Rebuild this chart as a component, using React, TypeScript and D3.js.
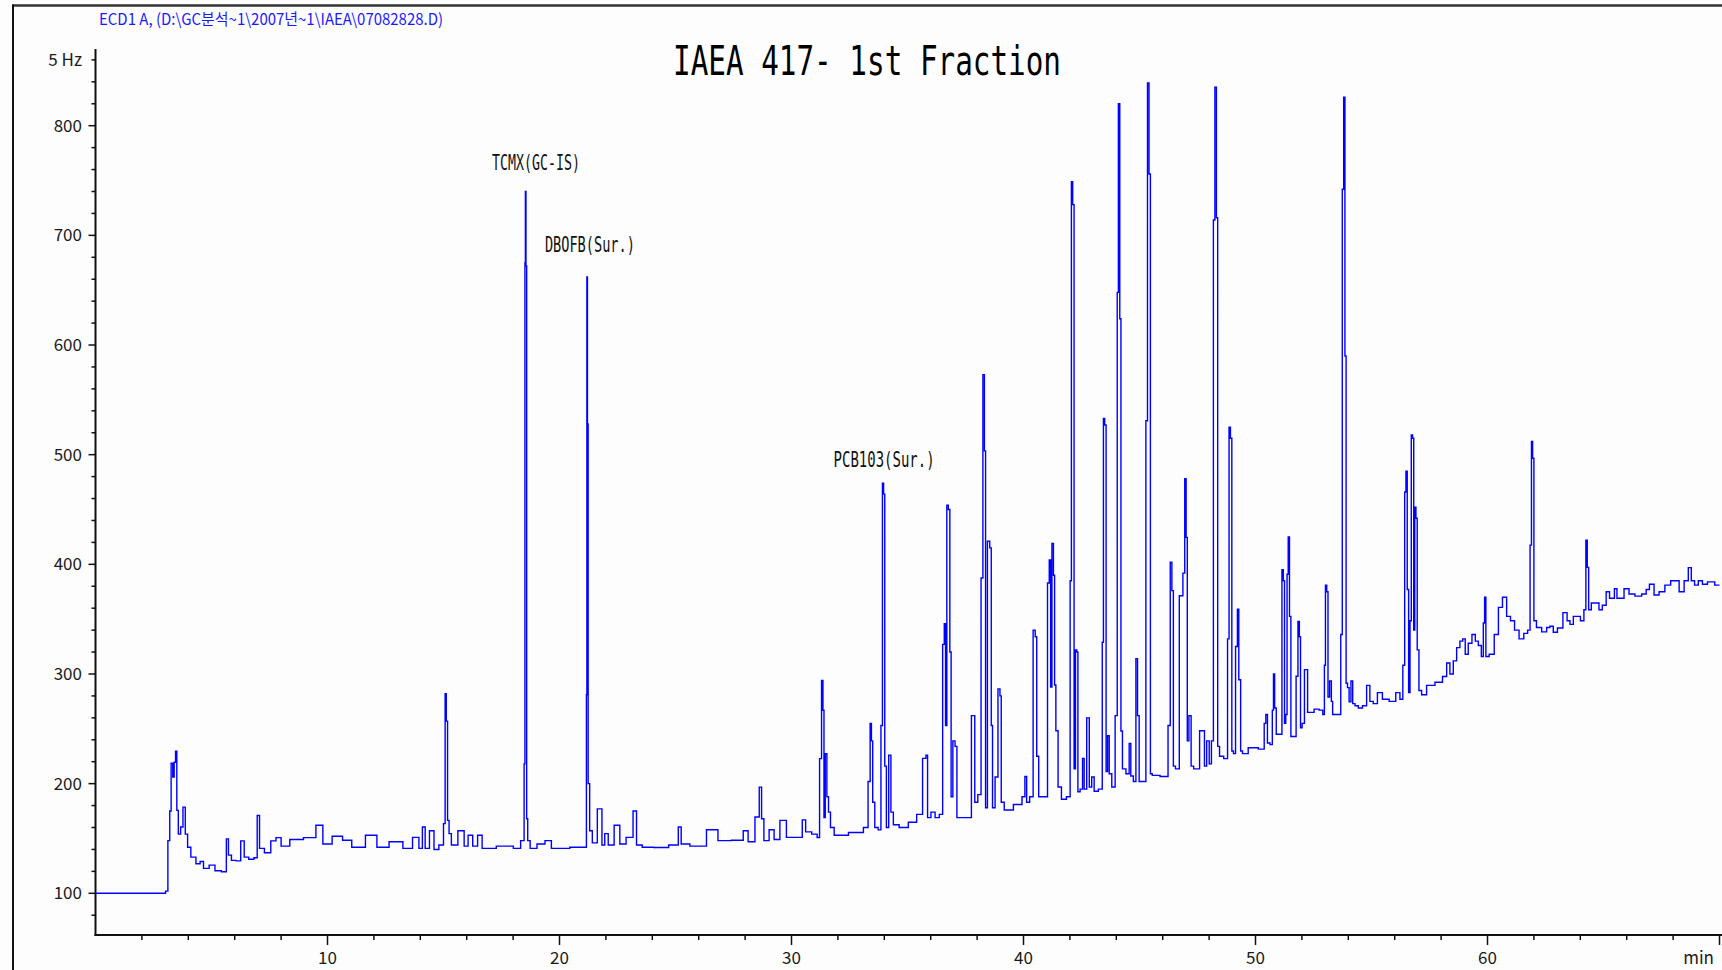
import React from 'react';
import * as d3 from 'd3';

type Pt = [number, number];

// retention time (min), detector signal (Hz)
const solventFront: Pt[] = [
  [0, 100], [2.97, 100], [3.07, 102], [3.17, 148], [3.23, 175], [3.29, 218.6], [3.37, 206], [3.41, 219.5],
  [3.49, 229.5], [3.52, 175.6], [3.62, 154], [3.72, 160.5], [3.82, 178.6], [3.92, 154], [4.02, 142], [4.2, 133],
  [4.46, 127], [4.56, 129], [4.75, 122.7], [5.05, 125.7], [5.25, 120.5], [5.6, 119.7], [5.68, 149.6], [5.78, 134.8],
  [5.94, 130], [6.18, 129.6], [6.34, 147.8], [6.48, 133], [6.73, 131], [6.93, 132.4], [7.01, 171], [7.13, 141],
];

const earlyTrace: Pt[] = [
  [7.43, 137], [7.68, 147.8], [7.88, 150.8], [8.12, 143], [8.63, 149], [9.3, 150.8], [9.7, 162], [9.9, 145],
  [10.5, 152], [10.8, 148.4], [11.29, 142], [11.98, 153], [12.28, 142], [13.03, 147], [13.47, 141], [13.86, 151],
  [14.02, 141], [14.16, 160.5], [14.26, 141], [14.53, 157], [14.65, 140], [14.95, 144], [15.05, 163.5], [15.09, 282],
  [15.15, 257], [15.2, 166.5], [15.28, 154.4], [15.4, 144], [15.84, 157], [15.94, 143], [16.18, 153], [16.34, 143],
  [16.6, 153], [16.73, 141], [17.82, 143], [18.2, 141], [18.45, 148],
];

const standardsTrace: Pt[] = [
  [18.5, 218], [18.52, 675], [18.54, 740], [18.57, 672], [18.6, 168], [18.66, 148], [18.81, 141], [19.25, 145],
  [19.5, 148], [19.8, 141], [21.09, 142], [21.15, 142], [21.17, 281], [21.19, 662], [21.22, 528], [21.25, 200],
  [21.35, 157], [21.48, 146], [21.78, 177], [21.88, 144], [22.02, 154.4], [22.18, 144], [22.53, 162], [22.67, 145],
  [23.07, 151], [23.27, 175], [23.37, 144], [23.76, 142], [24.36, 141.7], [25.05, 144], [25.19, 160.5], [25.3, 145],
  [25.94, 143], [26.73, 158], [26.93, 148], [27.88, 148.4], [27.96, 157], [28.3, 147], [28.55, 169.6], [28.67, 196.8],
  [28.75, 168], [28.87, 148], [29.2, 158], [29.3, 149], [29.7, 166.5], [29.86, 151], [30.4, 151], [30.53, 167],
  [30.69, 156], [31.05, 154],
];

const midTrace: Pt[] = [
  [31.16, 150.9], [31.26, 222.8], [31.33, 294], [31.38, 266.9], [31.42, 169], [31.49, 227.4], [31.56, 188], [31.63, 174],
  [31.73, 160], [31.95, 153], [32.96, 155.5], [33.24, 160], [33.36, 202], [33.42, 255], [33.47, 239], [33.53, 183],
  [33.65, 160], [33.82, 157.8], [33.89, 253], [33.95, 474], [33.99, 464], [34.05, 216], [34.13, 160], [34.25, 226],
  [34.32, 174], [34.46, 162.5], [34.82, 160], [35.25, 164.8], [35.54, 172], [35.76, 223], [35.83, 226], [35.9, 169],
  [36.12, 174], [36.26, 169], [36.48, 172], [36.55, 327], [36.62, 345.8], [36.66, 253], [36.73, 454], [36.79, 450],
  [36.86, 320], [36.9, 188], [37.01, 239], [37.09, 234], [37.17, 169], [37.7, 169], [37.81, 262], [37.87, 262],
  [37.93, 183], [38.13, 190], [38.21, 387.5], [38.29, 573], [38.34, 503.5], [38.39, 178], [38.5, 421], [38.59, 415],
  [38.63, 253], [38.7, 178], [38.85, 206], [38.95, 286.4], [39.02, 280], [39.06, 183], [39.28, 176], [39.85, 181],
];

const lateTrace: Pt[] = [
  [40.02, 188], [40.1, 206.5], [40.17, 183], [40.36, 188], [40.47, 340], [40.54, 334], [40.6, 225], [40.71, 188],
  [41.0, 188], [41.07, 383], [41.15, 404], [41.19, 288], [41.26, 419], [41.32, 390], [41.36, 290], [41.43, 248.3],
  [41.55, 197], [41.72, 185.7], [41.98, 188], [42.04, 385], [42.09, 749], [42.15, 728], [42.21, 213.5], [42.27, 322],
  [42.32, 320], [42.37, 192.6], [42.51, 195], [42.58, 223], [42.65, 195], [42.8, 260], [42.87, 197], [43.01, 206],
  [43.08, 193], [43.37, 195], [43.42, 329], [43.47, 533], [43.53, 527], [43.59, 211], [43.66, 243.7], [43.73, 209],
  [43.88, 197], [44.02, 262], [44.06, 648], [44.12, 820], [44.18, 624], [44.22, 248], [44.31, 213.5], [44.52, 209],
  [44.59, 236.7], [44.66, 207], [44.81, 202], [44.88, 314], [44.95, 262], [45.02, 202], [45.24, 202], [45.31, 531],
  [45.38, 839], [45.44, 756], [45.5, 209], [45.6, 207.5], [46.17, 206.5], [46.29, 253], [46.36, 402], [46.43, 376],
  [46.49, 216], [46.61, 213.5], [46.82, 371.3], [46.92, 392], [46.98, 478], [47.04, 424.6], [47.08, 239], [47.18, 262],
  [47.27, 216], [47.4, 213.5], [47.78, 248.3], [47.82, 216], [47.97, 239], [48.04, 218], [48.16, 239], [48.21, 714],
  [48.29, 835], [48.34, 716], [48.4, 234], [48.5, 225], [48.76, 222.8], [48.83, 332], [48.89, 525], [48.95, 515],
  [49.01, 229.8], [49.09, 227.4], [49.19, 325], [49.25, 359], [49.31, 294.7], [49.41, 229.8], [49.47, 227.4], [49.9, 232.7],
];

const heavyTrace: Pt[] = [
  [50.34, 231.5], [50.41, 255], [50.48, 263], [50.55, 237], [50.7, 235.6], [50.75, 267], [50.8, 300], [50.85, 269],
  [50.94, 245], [51.11, 245], [51.17, 395], [51.23, 385], [51.27, 255], [51.34, 263], [51.38, 391], [51.44, 425],
  [51.49, 352.5], [51.56, 243], [51.7, 243], [51.8, 298], [51.86, 348], [51.92, 334], [51.96, 251], [52.06, 255],
  [52.16, 304], [52.22, 304], [52.27, 265], [52.42, 265], [52.63, 268], [52.85, 267], [52.95, 263], [52.99, 308],
  [53.04, 381], [53.1, 375], [53.15, 279], [53.24, 293.6], [53.3, 275], [53.35, 263], [53.64, 263], [53.71, 336],
  [53.77, 742], [53.83, 826], [53.88, 590], [53.93, 291.6], [54.0, 287.6], [54.07, 274.6], [54.16, 293.6], [54.22, 273],
  [54.36, 271], [54.5, 269], [54.72, 271], [54.86, 289.6], [55.0, 275], [55.15, 273], [55.36, 283], [55.58, 277],
  [55.94, 275], [56.15, 283], [56.3, 277], [56.4, 308], [56.46, 466], [56.51, 485], [56.57, 377], [56.63, 283],
  [56.69, 348.5], [56.74, 518], [56.8, 515], [56.84, 340], [56.89, 452], [56.94, 442], [57.0, 322], [57.09, 285],
  [57.23, 281], [57.52, 289.6], [57.95, 292.4], [58.17, 297.7], [58.31, 310], [58.45, 300], [58.6, 312], [58.74, 324],
  [58.88, 330], [58.98, 332], [59.1, 318], [59.24, 328], [59.42, 336], [59.53, 330], [59.68, 326], [59.79, 316],
  [59.85, 346.5], [59.9, 370], [59.96, 316],
];

const tailTrace: Pt[] = [
  [60.18, 318], [60.4, 336], [60.54, 360.7], [60.75, 370], [60.9, 352.5], [61.08, 348.5], [61.25, 340], [61.47, 332],
  [61.66, 337], [61.8, 340], [61.87, 417.5], [61.92, 512], [61.97, 496.7], [62.03, 348.5], [62.19, 342.4], [62.48, 338.4],
  [62.62, 342.4], [62.76, 343.6], [62.91, 338], [63.12, 342], [63.38, 356], [63.48, 348.5], [63.63, 345.2], [63.77, 352.5],
  [63.91, 352.5], [64.1, 348.5], [64.21, 358.6], [64.27, 422], [64.33, 397.2], [64.39, 358.6], [64.56, 364.7], [64.73, 364.7],
  [64.88, 358.6], [65.02, 362.7], [65.21, 375], [65.31, 369], [65.42, 369], [65.52, 377.7], [65.64, 369], [65.78, 369],
  [65.99, 377.7], [66.21, 373], [66.5, 371], [66.79, 373], [66.89, 377], [67.07, 381.8], [67.29, 372], [67.5, 375],
  [67.79, 381], [68.0, 385], [68.15, 385], [68.37, 375], [68.58, 385], [68.73, 397], [68.84, 385], [69.01, 381],
  [69.16, 385], [69.37, 381.8], [69.59, 384], [70, 381],
];

const yTickValues = [100, 200, 300, 400, 500, 600, 700, 800];
const xTickValues = [10, 20, 30, 40, 50, 60];
const yUnitLabel = '5 Hz';
const xUnitLabel = 'min';

const peakLabels = ['TCMX(GC-IS)', 'DBOFB(Sur.)', 'PCB103(Sur.)'];
const peakLabelTimes = [18.99, 21.31, 33.99];
const peakLabelLevels = [760, 685, 489];

const chartTitle = 'IAEA 417- 1st Fraction';
const fileHeader = 'ECD1 A, (D:\\GC분석~1\\2007년~1\\IAEA\\07082828.D)';

const W = 1722;
const H = 970;
const narrow = "'Liberation Sans Narrow', 'Arial Narrow', 'Noto Sans CJK KR', sans-serif";
const mono = "'DejaVu Sans Mono', 'Liberation Mono', monospace";

export default function App() {
  const x = d3.scaleLinear().domain([0, 70]).range([95.5, 1719.5]);
  const y = d3.scaleLinear().domain([100, 800]).range([893.3, 125.7]);

  const trace = [...solventFront, ...earlyTrace, ...standardsTrace, ...midTrace, ...lateTrace, ...heavyTrace, ...tailTrace];
  // the detector output is sampled, so draw it stair-stepped like the data system does
  const line = d3.line<Pt>().x(d => x(d[0])).y(d => y(d[1])).curve(d3.curveStep);

  const axisY = y(62);
  const axisTop = y(870);
  const minorY = d3.range(80, 861, 20).filter(v => v % 100 !== 0);
  const minorX = d3.range(2, 70, 2).filter(v => v % 10 !== 0);
  const labelWidths = [88, 90, 101];

  return (
    <svg width={W} height={H} style={{ position: 'fixed', left: 0, top: 0, background: '#fff' }}>
      <rect x={0} y={0} width={W} height={H} fill="#fdfdfd" />
      {/* frame */}
      <line x1={12} x2={W} y1={5.5} y2={5.5} stroke="#333" strokeWidth={2.5} />
      <line x1={13} x2={13} y1={4.5} y2={H} stroke="#111" strokeWidth={2} />

      <text x={99} y={25} fontFamily={narrow} fontSize={16} fill="#1a1aff"
        textLength={344} lengthAdjust="spacingAndGlyphs">{fileHeader}</text>

      <text x={673} y={74.5} fontFamily={mono} fontSize={41} fill="#000"
        textLength={388} lengthAdjust="spacingAndGlyphs">{chartTitle}</text>

      {/* y axis */}
      <line x1={x(0)} x2={x(0)} y1={axisTop} y2={axisY + 1} stroke="#111" strokeWidth={2} />
      {minorY.map(v => (
        <line key={'my' + v} x1={x(0) - 4} x2={x(0)} y1={y(v)} y2={y(v)} stroke="#111" strokeWidth={1.5} />
      ))}
      {yTickValues.map(v => (
        <g key={'y' + v}>
          <line x1={x(0) - 7} x2={x(0)} y1={y(v)} y2={y(v)} stroke="#111" strokeWidth={1.5} />
          <text x={82} y={y(v)} dy="0.36em" textAnchor="end" fontFamily={narrow} fontSize={17} fill="#1a1a1a">{v}</text>
        </g>
      ))}
      <text x={82} y={y(860)} dy="0.36em" textAnchor="end" fontFamily={narrow} fontSize={17} fill="#1a1a1a">{yUnitLabel}</text>

      {/* x axis */}
      <line x1={x(0) - 1} x2={W} y1={axisY} y2={axisY} stroke="#111" strokeWidth={2} />
      {minorX.map(v => (
        <line key={'mx' + v} x1={x(v)} x2={x(v)} y1={axisY} y2={axisY + 5} stroke="#111" strokeWidth={1.5} />
      ))}
      {xTickValues.map(v => (
        <g key={'x' + v}>
          <line x1={x(v)} x2={x(v)} y1={axisY} y2={axisY + 10} stroke="#111" strokeWidth={1.5} />
          <text x={x(v)} y={964} textAnchor="middle" fontFamily={narrow} fontSize={17} fill="#1a1a1a">{v}</text>
        </g>
      ))}
      <line x1={x(70)} x2={x(70)} y1={axisY} y2={axisY + 10} stroke="#111" strokeWidth={1.5} />
      <text x={1714} y={964} textAnchor="end" fontFamily={narrow} fontSize={17} fill="#1a1a1a">{xUnitLabel}</text>

      {/* chromatogram */}
      <path d={line(trace) || ''} fill="none" stroke="#0000ff" strokeWidth={1.4} strokeLinejoin="miter" />

      {peakLabels.map((label, i) => (
        <text key={label} x={x(peakLabelTimes[i])} y={y(peakLabelLevels[i])} textAnchor="middle"
          fontFamily={mono} fontSize={22} fill="#111"
          textLength={labelWidths[i]} lengthAdjust="spacingAndGlyphs">{label}</text>
      ))}
    </svg>
  );
}
